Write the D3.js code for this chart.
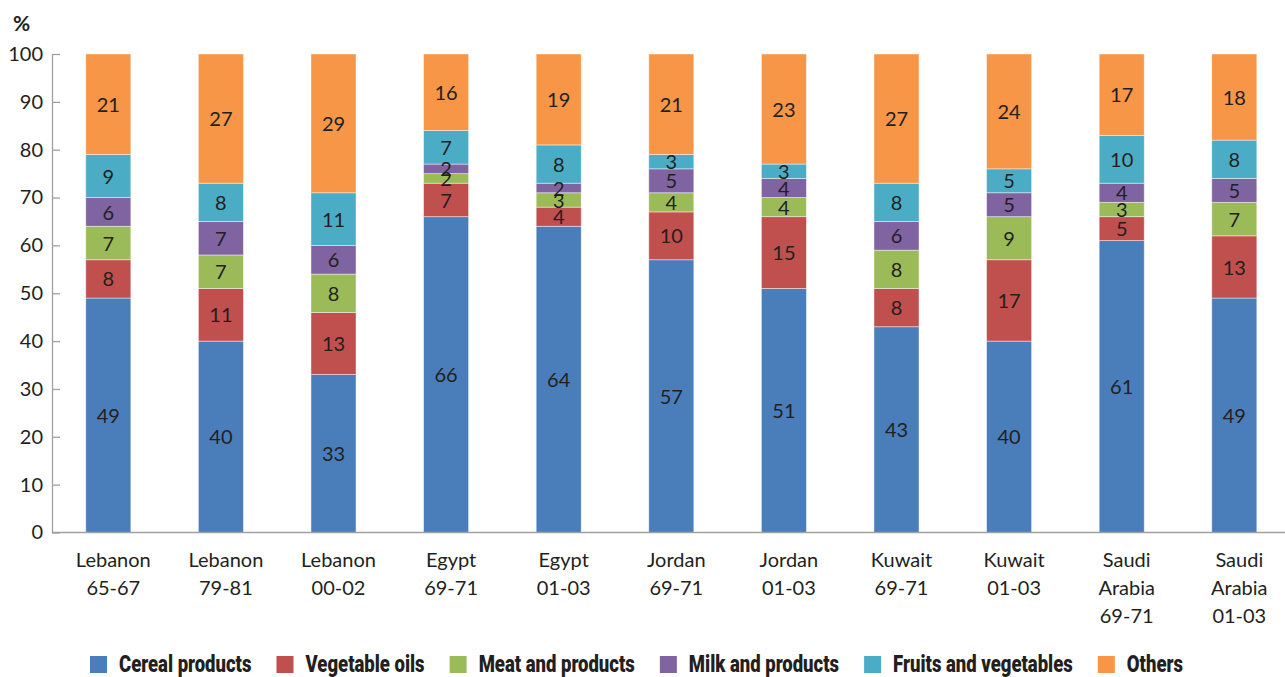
<!DOCTYPE html>
<html>
<head>
<meta charset="utf-8">
<script src="https://cdn.jsdelivr.net/npm/d3@7"></script>
<style>
  html, body { margin: 0; padding: 0; background: #fff; }
  svg { display: block; }
  .num { font-family: Lato, "Open Sans", sans-serif; font-size: 20px; fill: #231f20; }
  .legend text { font-family: Roboto, "DejaVu Sans", sans-serif; font-weight: 900; font-size: 23px; fill: #231f20; }
</style>
</head>
<body>
<svg id="chart" width="1285" height="677"></svg>
<script>
// Food supply composition by country and period (% of total)
const categories = [
  ["Lebanon", "65-67"], ["Lebanon", "79-81"], ["Lebanon", "00-02"],
  ["Egypt", "69-71"], ["Egypt", "01-03"],
  ["Jordan", "69-71"], ["Jordan", "01-03"],
  ["Kuwait", "69-71"], ["Kuwait", "01-03"],
  ["Saudi", "Arabia", "69-71"], ["Saudi", "Arabia", "01-03"]
];
const seriesNames = ["Cereal products", "Vegetable oils", "Meat and products",
                     "Milk and products", "Fruits and vegetables", "Others"];
const cereal     = [49, 40, 33, 66, 64, 57, 51, 43, 40, 61, 49];
const vegOils    = [ 8, 11, 13,  7,  4, 10, 15,  8, 17,  5, 13];
const meat       = [ 7,  7,  8,  2,  3,  4,  4,  8,  9,  3,  7];
const milk       = [ 6,  7,  6,  2,  2,  5,  4,  6,  5,  4,  5];
const fruitsVeg  = [ 9,  8, 11,  7,  8,  3,  3,  8,  5, 10,  8];
const others     = [21, 27, 29, 16, 19, 21, 23, 27, 24, 17, 18];
const yTicks = [0, 10, 20, 30, 40, 50, 60, 70, 80, 90, 100];
const colors = ["#4a7ebb", "#c0504d", "#9bbb59", "#8064a2", "#4bacc6", "#f79646"];

const series = [cereal, vegOils, meat, milk, fruitsVeg, others];
const keys = categories.map(c => c.join(" "));
const rows = keys.map((k, i) => {
  const r = { key: k };
  seriesNames.forEach((s, j) => { r[s] = series[j][i]; });
  return r;
});
const stacked = d3.stack().keys(seriesNames)(rows);

const svg = d3.select("#chart");
const plotLeft = 52, plotRight = 1290.6, plotTop = 54, plotBottom = 532.5;

const x = d3.scaleBand().domain(keys).range([plotLeft, plotRight])
  .paddingInner(0.6).paddingOuter(0.3);
const y = d3.scaleLinear().domain([0, 100]).range([plotBottom, plotTop]);

// Stacked segments
const layer = svg.append("g").selectAll("g").data(stacked).join("g")
  .attr("fill", (d, i) => colors[i]);
layer.selectAll("rect").data(d => d).join("rect")
  .attr("x", d => x(d.data.key))
  .attr("width", x.bandwidth())
  .attr("y", d => y(d[1]))
  .attr("height", d => y(d[0]) - y(d[1]))
  .attr("stroke", "rgba(255,255,255,0.55)")
  .attr("stroke-width", 0.8);

// Segment value labels
const labels = svg.append("g");
stacked.forEach(s => {
  labels.append("g").selectAll("text").data(s).join("text")
    .attr("class", "num")
    .attr("text-anchor", "middle")
    .attr("x", d => x(d.data.key) + x.bandwidth() / 2)
    .attr("y", d => y((d[0] + d[1]) / 2))
    .attr("dy", "0.38em")
    .text(d => d[1] - d[0]);
});

// Y axis (ticks pointing into the plot)
const yAxis = svg.append("g").attr("transform", `translate(${plotLeft},0)`)
  .call(d3.axisLeft(y).tickValues(yTicks).tickSizeInner(-8).tickSizeOuter(0).tickPadding(9));
yAxis.selectAll("path, line").attr("stroke", "#a0a0a0").attr("stroke-width", 1.3);
yAxis.selectAll("text").attr("class", "num").attr("fill", "#231f20").style("font-size", "20px");

// X axis baseline
svg.append("line")
  .attr("x1", plotLeft).attr("x2", 1285)
  .attr("y1", y(0)).attr("y2", y(0))
  .attr("stroke", "#a0a0a0").attr("stroke-width", 1.3);

// Category labels (multi-line), set slightly right of the bar centre
const labelShift = 5;
const xl = svg.append("g").selectAll("text").data(categories).join("text")
  .attr("class", "num")
  .attr("text-anchor", "middle")
  .attr("x", (d, i) => x(keys[i]) + x.bandwidth() / 2 + labelShift)
  .attr("y", 567);
xl.selectAll("tspan").data(d => d).join("tspan")
  .attr("x", function () { return this.parentNode.getAttribute("x"); })
  .attr("dy", (d, i) => i === 0 ? 0 : 28)
  .text(d => d);

// Unit label
svg.append("text")
  .attr("x", 13).attr("y", 31)
  .style("font-family", "Lato, sans-serif").style("font-weight", 700)
  .style("font-size", "21px").attr("fill", "#231f20")
  .text("%");

// Legend: condensed bold labels, laid out left to right and squeezed
// horizontally so the row spans the width under the plot
const legend = svg.append("g").attr("class", "legend");
const legStart = 90, legEnd = 1183, sq = 17, sqGap = 12, itemGap = 25;
const items = seriesNames.map((name, i) => {
  const g = legend.append("g");
  g.append("rect").attr("width", sq).attr("height", sq).attr("y", 656).attr("fill", colors[i]);
  const t = g.append("text").attr("y", 672).text(name);
  return { g, t, w: t.node().getComputedTextLength() };
});
const fixed = items.length * (sq + sqGap) + (items.length - 1) * itemGap;
const squeeze = (legEnd - legStart - fixed) / d3.sum(items, d => d.w);
let lx = legStart;
items.forEach(it => {
  it.g.select("rect").attr("x", lx);
  const tx = lx + sq + sqGap;
  it.t.attr("transform", `translate(${tx},0) scale(${squeeze},1)`);
  lx = tx + it.w * squeeze + itemGap;
});
</script>
</body>
</html>
